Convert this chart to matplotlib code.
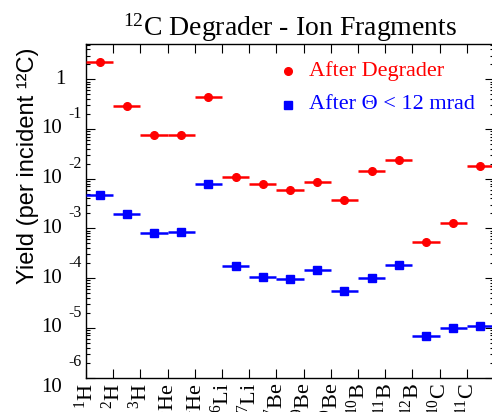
import numpy as np
import matplotlib.pyplot as plt
from matplotlib.ticker import LogLocator, NullFormatter, FixedLocator
import matplotlib.transforms as mtransforms

plt.rcParams['mathtext.fontset'] = 'custom'
plt.rcParams['mathtext.rm'] = 'Liberation Serif'
plt.rcParams['mathtext.it'] = 'Liberation Serif:italic'
plt.rcParams['font.family'] = 'Liberation Serif'

# fragment species (one bin each)
species = ['$^{1}$H', '$^{2}$H', '$^{3}$H', '$^{3}$He', '$^{4}$He', '$^{6}$Li', '$^{7}$Li',
           '$^{7}$Be', '$^{9}$Be', '$^{10}$Be', '$^{10}$B', '$^{11}$B', '$^{12}$B',
           '$^{10}$C', '$^{11}$C']

# yield per incident 12C
after_degrader = [2.23, 0.29, 0.0767, 0.0743, 0.448, 0.0107, 0.00788, 0.00605,
                  0.0085, 0.00375, 0.0144, 0.0236, 0.000525, 0.00131, 0.0181]
after_cut = [0.00465, 0.00195, 0.000822, 0.00085, 0.00788, 0.000172, 0.000103,
             0.0000955, 0.000143, 0.0000557, 0.000102, 0.00018, 6.9e-6, 9.7e-6, 1.1e-5]

decades = [0, -1, -2, -3, -4, -5, -6]

fig = plt.figure(figsize=(4.92, 4.12), dpi=100)
ax = fig.add_axes([86 / 492, 1 - 377.5 / 412, 408 / 492, 333.2 / 412])

x = np.arange(len(species)) + 0.5
ax.errorbar(x, after_degrader, xerr=0.5, fmt='o', color='red', ms=5.5, lw=1.8,
            capsize=0, zorder=3)
ax.errorbar(x, after_cut, xerr=0.5, fmt='s', color='blue', ms=5.3, lw=1.8,
            capsize=0, zorder=3)

ax.set_yscale('log')
ax.set_ylim(1e-6, 5.06)
ax.set_xlim(0, len(species))

# x axis: bin edges with rotated species names
ax.set_xticks(np.arange(len(species) + 1))
ax.set_xticklabels(species + [''], rotation=90, fontsize=16)
ax.tick_params(axis='x', which='major', direction='in', top=True, bottom=True,
               length=6.5, width=0.8, pad=4)

# y axis: log ticks, labels drawn by hand below
ax.yaxis.set_major_locator(FixedLocator([10.0 ** d for d in decades]))
ax.yaxis.set_minor_locator(LogLocator(base=10, subs=np.arange(2, 10)))
ax.yaxis.set_major_formatter(NullFormatter())
ax.yaxis.set_minor_formatter(NullFormatter())
ax.tick_params(axis='y', which='major', direction='in', left=True, right=True,
               length=6.5, width=0.8)
ax.tick_params(axis='y', which='minor', direction='in', left=True, right=True,
               length=3.2, width=0.8)
for s in ax.spines.values():
    s.set_linewidth(1.0)

ytr = ax.get_yaxis_transform()
for d in decades:
    if d == 0:
        ax.text(-0.049, 1.0, '1', transform=ytr, ha='right', va='center', fontsize=15)
        continue
    shift = -10 if d == -6 else 0
    tr = ytr + mtransforms.ScaledTranslation(0, shift / 100, fig.dpi_scale_trans)
    ax.text(-0.0588, 10.0 ** d, '10', transform=tr, ha='right', va='center', fontsize=15)
    tr2 = ytr + mtransforms.ScaledTranslation(0, 15 / 100, fig.dpi_scale_trans)
    ax.text(-0.0441, 10.0 ** d, str(d), transform=tr2, ha='left', va='center', fontsize=11.5)

ax.set_title('$^{12}$C Degrader - Ion Fragments', fontsize=20, pad=6.5)

fig.text(28 / 492, 1 - 166 / 412, 'Yield (per incident ¹²C)', rotation=90,
         ha='center', va='center', fontsize=17, family='Liberation Sans')

# legend
ax.plot([0.495], [0.920], 'o', color='red', ms=5.5, transform=ax.transAxes)
ax.text(0.547, 0.920, 'After Degrader', color='red', fontsize=16,
        transform=ax.transAxes, va='center', ha='left')
ax.plot([0.495], [0.818], 's', color='blue', ms=5.3, transform=ax.transAxes)
ax.text(0.547, 0.818, 'After Θ < 12 mrad', color='blue', fontsize=16,
        transform=ax.transAxes, va='center', ha='left')

fig.savefig('out.png', dpi=100)
